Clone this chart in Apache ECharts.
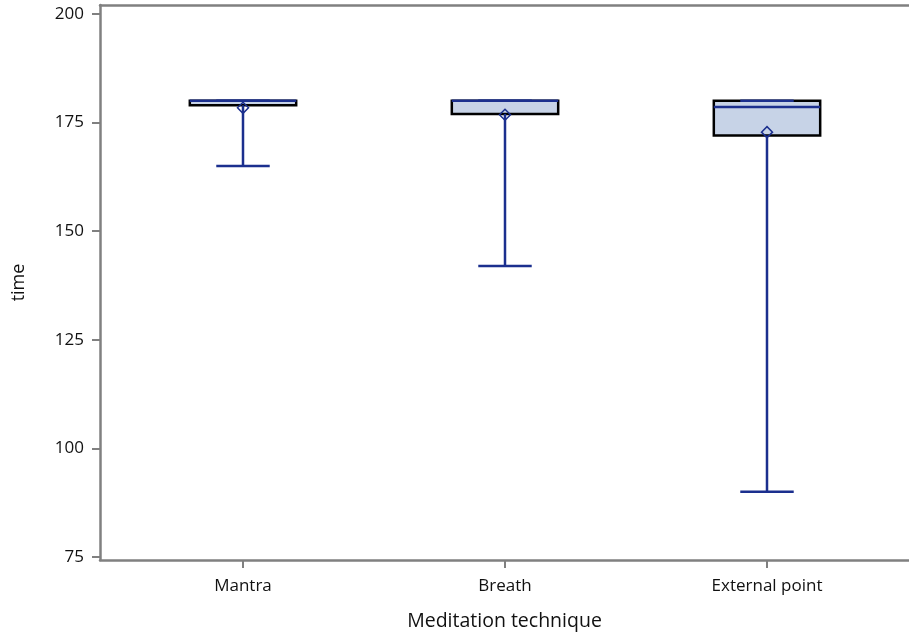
<!DOCTYPE html>
<html>
<head>
<meta charset="utf-8">
<script src="https://cdn.jsdelivr.net/npm/echarts@6/dist/echarts.min.js"></script>
<style>html,body{margin:0;padding:0;background:#fff}#c{width:909px;height:636px}</style>
</head>
<body>
<div id="c"></div>
<script>
var categories = ['Mantra', 'Breath', 'External point'];
var mins = [165, 142, 90];
var q1s = [179, 177, 172];
var medians = [180, 180, 178.6];
var q3s = [180, 180, 180];
var maxs = [180, 180, 180];
var means = [178.4, 176.8, 172.8];
var yTicks = [75, 100, 125, 150, 175, 200];

var data = categories.map(function (c, i) {
  return [i, mins[i], q1s[i], medians[i], q3s[i], maxs[i], means[i]];
});

var BOX_HALF = 0.203, CAP_HALF = 0.102, FONT = 'Open Sans';
var BLUE = '#1b2f8e';
var X_MIN = -0.5458, X_MAX = 2.542;

function renderItem(params, api) {
  var x = api.value(0);
  var lo = api.value(1), q1 = api.value(2), md = api.value(3), q3 = api.value(4), hi = api.value(5), mn = api.value(6);
  var pL = api.coord([x - BOX_HALF, q3]);
  var pR = api.coord([x + BOX_HALF, q1]);
  var c = api.coord([x, md]);
  var pLo = api.coord([x, lo]), pQ1 = api.coord([x, q1]), pQ3 = api.coord([x, q3]), pHi = api.coord([x, hi]);
  var capL = api.coord([x - CAP_HALF, lo])[0], capR = api.coord([x + CAP_HALF, lo])[0];
  var boxL = pL[0], boxR = pR[0];
  var pM = api.coord([x, mn]);
  var d = 5.5;
  var line = {stroke: BLUE, lineWidth: 2.5};
  return {
    type: 'group',
    children: [
      {type: 'rect', shape: {x: boxL, y: pL[1], width: boxR - boxL, height: pR[1] - pL[1]},
       style: {fill: '#c7d3e7', stroke: '#000', lineWidth: 2.5}},
      {type: 'line', shape: {x1: boxL, y1: c[1], x2: boxR, y2: c[1]}, style: line},
      {type: 'line', shape: {x1: pLo[0], y1: pLo[1], x2: pQ1[0], y2: pQ1[1]}, style: line},
      {type: 'line', shape: {x1: pHi[0], y1: pHi[1], x2: pQ3[0], y2: pQ3[1]}, style: line},
      {type: 'line', shape: {x1: capL, y1: pLo[1], x2: capR, y2: pLo[1]}, style: line},
      {type: 'line', shape: {x1: capL, y1: pHi[1], x2: capR, y2: pHi[1]}, style: line},
      {type: 'polygon', shape: {points: [[pM[0], pM[1] - d], [pM[0] + d, pM[1]], [pM[0], pM[1] + d], [pM[0] - d, pM[1]]]},
       style: {fill: 'none', stroke: BLUE, lineWidth: 1.5}}
    ]
  };
}

var chart = echarts.init(document.getElementById('c'));
chart.setOption({
  animation: false,
  backgroundColor: '#fff',
  grid: {left: 100, right: 0, top: 5, bottom: 75, show: false},
  xAxis: [{
    type: 'value', min: X_MIN, max: X_MAX,
    splitLine: {show: false},
    axisLine: {show: true, onZero: false, lineStyle: {color: '#808080', width: 2.5}},
    axisTick: {show: true, customValues: [0, 1, 2], length: 8, lineStyle: {color: '#808080', width: 2}},
    axisLabel: {customValues: [0, 1, 2], margin: 18, fontFamily: FONT, fontSize: 17, color: '#111',
      formatter: function (v) { return categories[Math.round(v)]; }},
    name: 'Meditation technique', nameLocation: 'middle', nameGap: 51,
    nameTextStyle: {fontFamily: FONT, fontSize: 19.5, color: '#111'}
  }, {
    type: 'value', position: 'top', min: X_MIN, max: X_MAX,
    splitLine: {show: false},
    axisLine: {show: true, onZero: false, lineStyle: {color: '#808080', width: 2.5}},
    axisTick: {show: false}, axisLabel: {show: false}
  }],
  yAxis: {
    type: 'value', min: 74.3, max: 202.07,
    splitLine: {show: false},
    axisLine: {show: true, onZero: false, lineStyle: {color: '#808080', width: 2.5}},
    axisTick: {show: true, customValues: yTicks, length: 8, lineStyle: {color: '#808080', width: 2}},
    axisLabel: {customValues: yTicks, margin: 16, fontFamily: FONT, fontSize: 17, color: '#111'},
    name: 'time', nameLocation: 'middle', nameGap: 72,
    nameTextStyle: {fontFamily: FONT, fontSize: 18, color: '#111'}
  },
  series: [{
    type: 'custom', renderItem: renderItem, data: data, xAxisIndex: 0,
    encode: {x: 0, y: [1, 2, 3, 4, 5, 6]}
  }]
});
</script>
</body>
</html>
